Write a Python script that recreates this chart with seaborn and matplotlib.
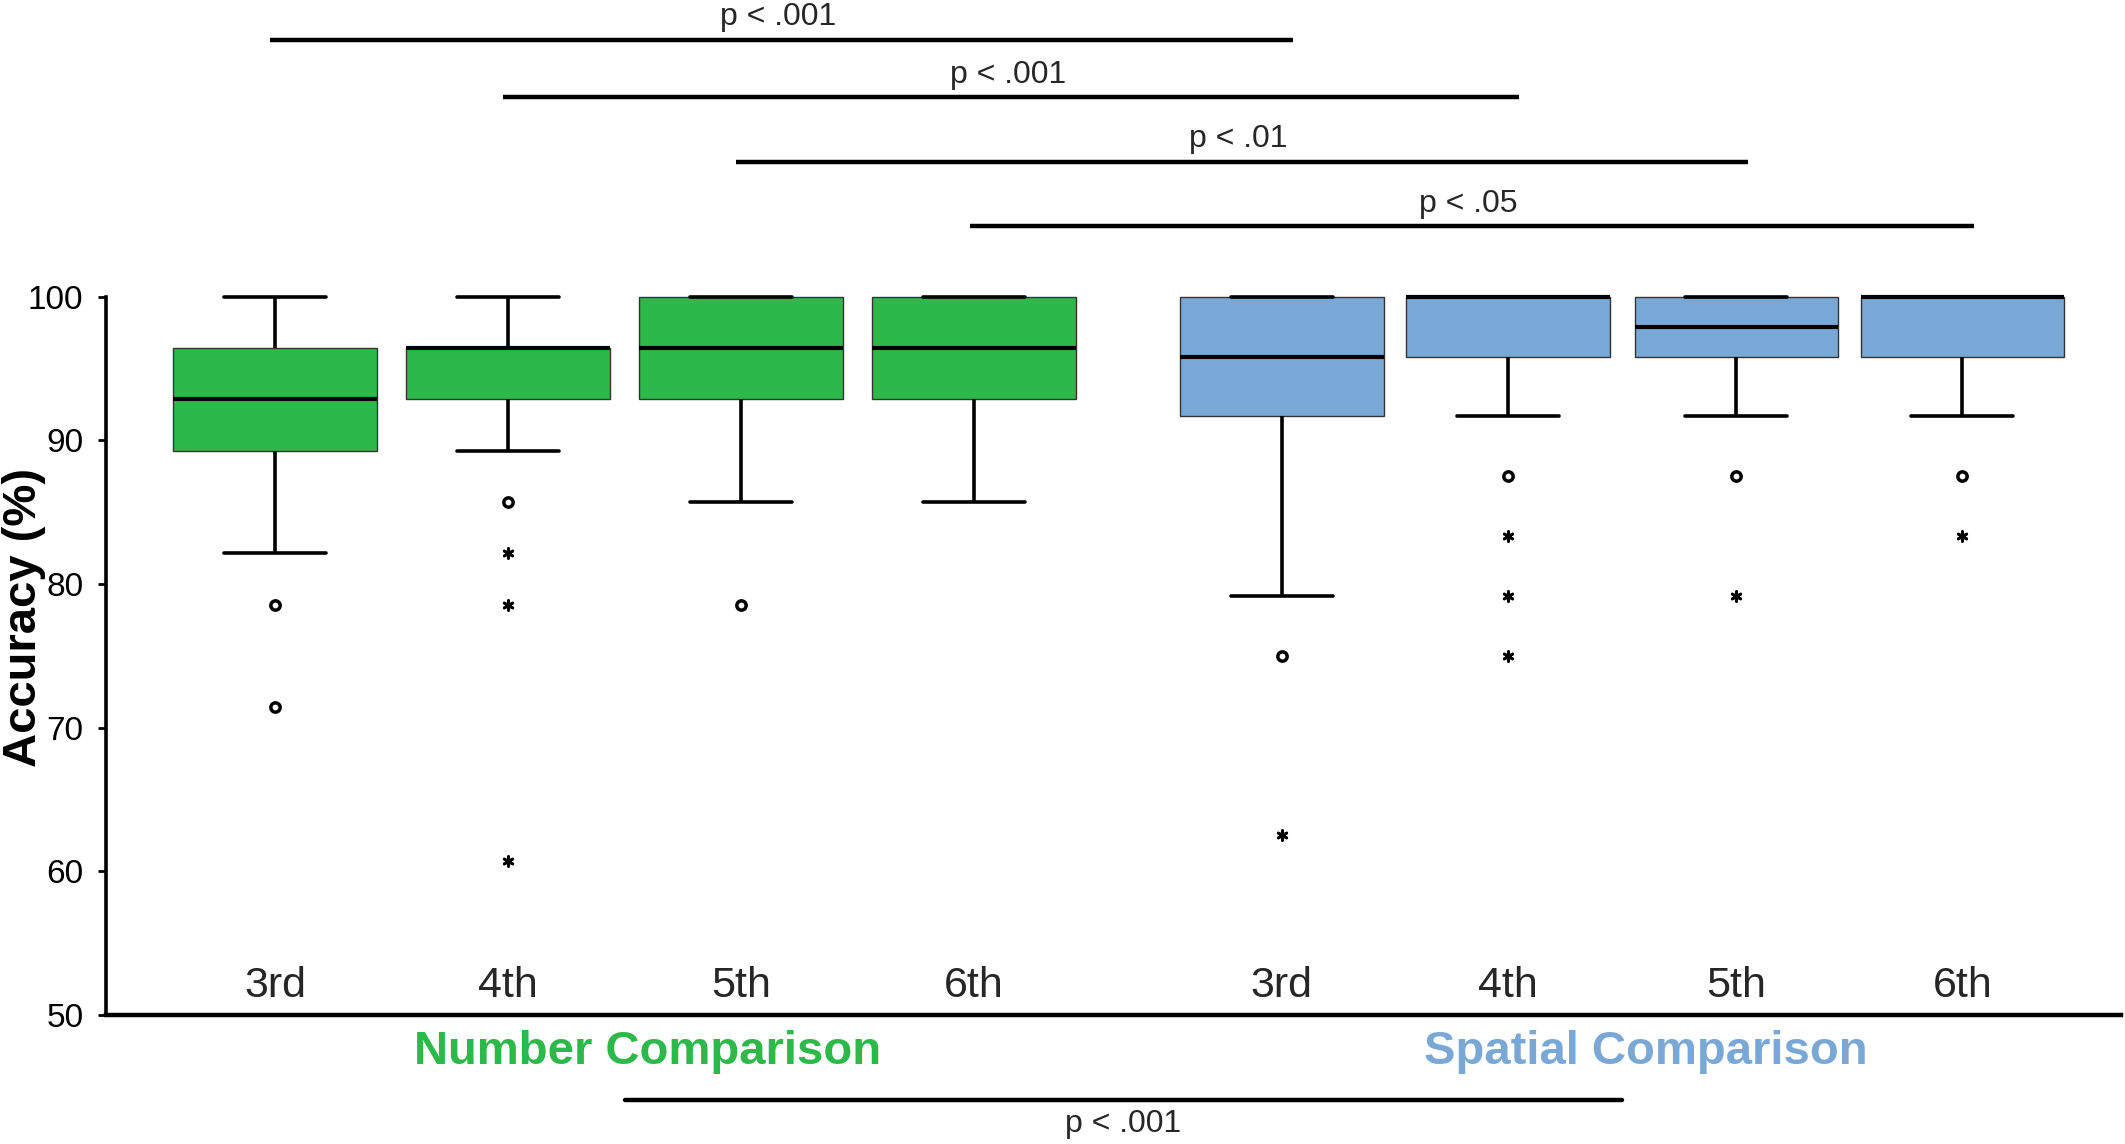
"""
accuracy by grade, number vs spatial comparison
"""

import matplotlib

matplotlib.use("Agg")
import matplotlib.pyplot as plt
from matplotlib import font_manager
import pandas as pd
import seaborn as sns

# data (accuracy %)
tasks = ["Number Comparison"] * 4 + ["Spatial Comparison"] * 4
grades = ["3rd", "4th", "5th", "6th", "3rd", "4th", "5th", "6th"]
positions = [0, 1, 2, 3, 4.32, 5.29, 6.27, 7.24]
whiskerLow = [82.14, 89.29, 85.71, 85.71, 79.17, 91.67, 91.67, 91.67]
q1 = [89.29, 92.86, 92.86, 92.86, 91.67, 95.83, 95.83, 95.83]
median = [92.86, 96.43, 96.43, 96.43, 95.83, 100.0, 97.92, 100.0]
q3 = [96.43, 96.43, 100.0, 100.0, 100.0, 100.0, 100.0, 100.0]
whiskerHigh = [100.0, 100.0, 100.0, 100.0, 100.0, 100.0, 100.0, 100.0]

# outliers: circles (o) and extremes (*)
outlierGroup = [0, 0, 1, 2, 4, 5, 6, 7]
outlierValue = [78.57, 71.43, 85.71, 78.57, 75.0, 87.5, 87.5, 87.5]
extremeGroup = [1, 1, 1, 4, 5, 5, 5, 6, 7]
extremeValue = [82.14, 78.57, 60.71, 62.5, 83.33, 79.17, 75.0, 79.17, 83.33]

# significance brackets
bracketFrom = [0, 1, 2, 3]
bracketTo = [4, 5, 6, 7]
bracketY = [117.9, 113.9, 109.4, 104.9]
bracketLabel = ["p < .001", "p < .001", "p < .01", "p < .05"]
taskBracketLabel = "p < .001"

colors = {"Number Comparison": "#2db84a", "Spatial Comparison": "#7aa8d6"}

# long-form table: one row per box statistic so the boxes reproduce them
rows = []
for i in range(len(grades)):
    for v in (whiskerLow[i], q1[i], q1[i], median[i], q3[i], q3[i], whiskerHigh[i]):
        rows.append({"pos": positions[i], "task": tasks[i], "accuracy": v})
boxData = pd.DataFrame(rows)
outlierData = pd.DataFrame(
    {"pos": [positions[g] for g in outlierGroup], "accuracy": outlierValue}
)
extremeData = pd.DataFrame(
    {"pos": [positions[g] for g in extremeGroup], "accuracy": extremeValue}
)

# fonts
installed = {f.name for f in font_manager.fontManager.ttflist}
narrow = "Liberation Sans Narrow" if "Liberation Sans Narrow" in installed else "Liberation Sans"
sns.set_style("white")
plt.rcParams["font.family"] = ["Liberation Sans", "DejaVu Sans"]

fig = plt.figure(figsize=(21.25, 11.44), dpi=100)
ax = fig.add_axes([0.0497, 0.1127, 0.9483, 0.6279])

sns.boxplot(
    data=boxData,
    x="pos",
    y="accuracy",
    hue="task",
    palette=colors,
    saturation=1,
    native_scale=True,
    dodge=False,
    width=0.9,
    whis=(0, 100),
    showfliers=False,
    linecolor="black",
    linewidth=2.6,
    boxprops={"edgecolor": "#333333", "linewidth": 1.0},
    medianprops={"linewidth": 3.0, "color": "black"},
    legend=False,
    ax=ax,
)
for artist in ax.patches + ax.lines:
    artist.set_clip_on(False)

sns.scatterplot(
    data=outlierData, x="pos", y="accuracy", marker="o", s=45,
    facecolor="white", edgecolor="black", linewidth=2.5, ax=ax, zorder=5,
)
sns.scatterplot(
    data=extremeData, x="pos", y="accuracy", marker=(6, 2, 0), s=50,
    color="black", linewidth=2.0, ax=ax, zorder=5,
)

ax.set_xlim(-0.727, 7.92)
ax.set_ylim(50, 100)
ax.set_yticks(range(50, 101, 10))
ax.set_xticks([])
ax.set_xlabel("")
ax.set_ylabel("Accuracy (%)", fontsize=34, fontweight="bold", color="black")
ax.yaxis.set_label_coords(-0.0405, 0.553)
ax.yaxis.label.set_va("center")
ax.tick_params(axis="y", length=6, width=2, direction="out", labelsize=24,
               pad=10, left=True, colors="black")
for lab in ax.get_yticklabels():
    lab.set_fontfamily(narrow)
for side in ("top", "right"):
    ax.spines[side].set_visible(False)
ax.spines["left"].set_linewidth(2.6)
ax.spines["bottom"].set_linewidth(3.2)
ax.spines["left"].set_color("black")
ax.spines["bottom"].set_color("black")
ax.spines["left"].set_bounds(50, 100)

# grade labels inside the axes
for p, g in zip(positions, grades):
    ax.text(p, 52.0, g, ha="center", va="center", fontsize=31, family=narrow)

# group labels under the axis
for t in colors:
    idx = [i for i, tt in enumerate(tasks) if tt == t]
    mid = (positions[idx[0]] + positions[idx[-1]]) / 2
    ax.text(mid + 0.1, 47.4, t, ha="center", va="center", fontsize=34,
            fontweight="bold", color=colors[t], clip_on=False)

# brackets above
for a, b, y, lab in zip(bracketFrom, bracketTo, bracketY, bracketLabel):
    ax.plot([positions[a] - 0.02, positions[b] + 0.05], [y, y], color="black",
            lw=3.2, clip_on=False, solid_capstyle="butt")
    ax.text((positions[a] + positions[b]) / 2, y + 1.55, lab, ha="center",
            va="center", fontsize=23, clip_on=False)

# bracket between tasks
numMid = (positions[0] + positions[3]) / 2
spaMid = (positions[4] + positions[7]) / 2
ax.plot([numMid, spaMid], [44.06, 44.06], color="black", lw=3.2, clip_on=False)
ax.text((numMid + spaMid) / 2, 42.45, taskBracketLabel, ha="center", va="center",
        fontsize=23, clip_on=False)

fig.savefig("out.png", dpi=100)
